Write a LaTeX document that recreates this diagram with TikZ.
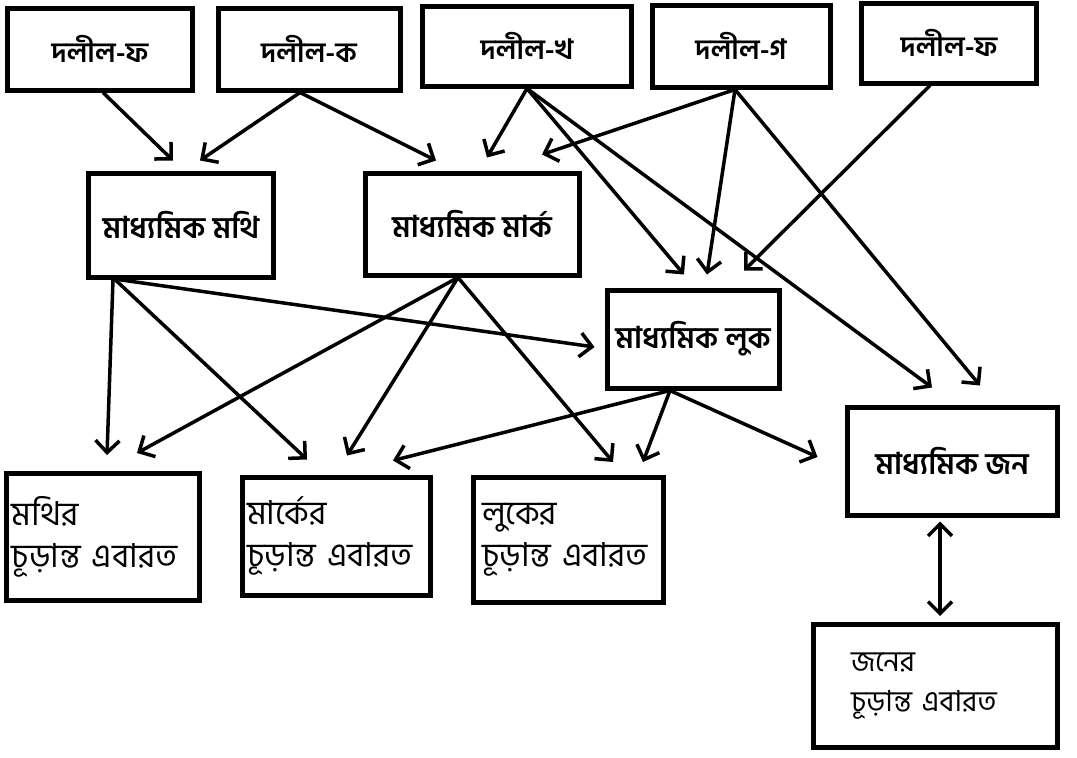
\documentclass[tikz,border=0pt]{standalone}
\usepackage{fontspec}
\newfontfamily\bn[Script=Bengali]{Hind Siliguri}
\usetikzlibrary{arrows.meta}
\begin{document}
\begin{tikzpicture}[x=1pt,y=-1pt,line width=3.5pt,
    >={Straight Barb[length=12pt,width=24pt]},
    box/.style={draw,line width=5pt,inner sep=4pt,font=\bn\bfseries\fontsize{28}{42}\selectfont},
    mid/.style={box,font=\bn\bfseries\fontsize{30}{42}\selectfont},
    fin/.style={box,align=left,font=\bn\fontsize{33}{42}\selectfont}]
  \useasboundingbox (0,0) rectangle (1077,758);
  \node[box,minimum width=185pt,minimum height=82pt] (f1) at (100,49) {দলীল-ফ};
  \node[box,minimum width=182pt,minimum height=82pt] (qa) at (309,49) {দলীল-ক};
  \node[box,minimum width=209pt,minimum height=80pt] (kh) at (527,46) {দলীল-খ};
  \node[box,minimum width=178pt,minimum height=82pt] (ga) at (741,46) {দলীল-গ};
  \node[box,minimum width=175pt,minimum height=80pt] (f2) at (949,43) {দলীল-ফ};
  \node[mid,minimum width=185pt,minimum height=104pt] (mathi) at (181,225) {মাধ্যমিক মথি};
  \node[mid,minimum width=214pt,minimum height=102pt] (mark) at (472,224) {মাধ্যমিক মার্ক};
  \node[mid,minimum width=172pt,minimum height=98pt] (luke) at (693,339) {মাধ্যমিক লুক};
  \node[mid,minimum width=210pt,minimum height=108pt] (john) at (952,461) {মাধ্যমিক জন};
  \node[fin,minimum width=193pt,minimum height=127pt,text width=183pt] (mathiF) at (103,537) {মথির\\চূড়ান্ত এবারত};
  \node[fin,minimum width=188pt,minimum height=118pt,text width=178pt] (markF) at (336,536) {মার্কের\\চূড়ান্ত এবারত};
  \node[fin,minimum width=190pt,minimum height=125pt,text width=172pt] (lukeF) at (568,540) {লুকের\\চূড়ান্ত এবারত};
  \node[fin,minimum width=244pt,minimum height=123pt,text width=168pt,font=\bn\fontsize{29}{40}\selectfont] (johnF) at (935,686) {জনের\\চূড়ান্ত এবারত};
  \draw[->] ([xshift=3pt]f1.south) -- ([xshift=-8pt,yshift=10pt]mathi.north);
  \draw[->] ([xshift=-9pt]qa.south) -- ([xshift=19pt,yshift=10pt]mathi.north);
  \draw[->] ([xshift=-9pt]qa.south) -- ([xshift=-36pt,yshift=10pt]mark.north);
  \draw[->] (kh.south) -- ([xshift=15pt,yshift=13pt]mark.north);
  \draw[->] ([xshift=-6pt]ga.south) -- ([xshift=70pt,yshift=16pt]mark.north);
  \draw[->] (kh.south) -- ([xshift=-9pt,yshift=13pt]luke.north);
  \draw[->] ([xshift=-6pt]ga.south) -- ([xshift=14pt,yshift=13pt]luke.north);
  \draw[->] ([xshift=-19pt]f2.south) -- ([xshift=51pt,yshift=17pt]luke.north);
  \draw[->] (kh.south) -- ([xshift=-20pt,yshift=17pt]john.north);
  \draw[->] ([xshift=-6pt]ga.south) -- ([xshift=28pt,yshift=19pt]john.north);
  \draw[->] ([xshift=-68pt]mathi.south) -- ([xshift=4pt,yshift=16pt]mathiF.north);
  \draw[->] ([xshift=-66pt]mathi.south) -- ([xshift=-29pt,yshift=15pt]markF.north);
  \draw[->] ([xshift=-63pt]mathi.south) -- ([xshift=-10pt,yshift=-8pt]luke.west);
  \draw[->] ([xshift=-14pt]mark.south) -- ([xshift=34pt,yshift=18pt]mathiF.north);
  \draw[->] ([xshift=-14pt]mark.south) -- ([xshift=11pt,yshift=19pt]markF.north);
  \draw[->] ([xshift=-14pt]mark.south) -- ([xshift=45pt,yshift=13pt]lukeF.north);
  \draw[->] ([xshift=-23pt]luke.south) -- ([xshift=57pt,yshift=14pt]markF.north);
  \draw[->] ([xshift=-23pt]luke.south) -- ([xshift=75pt,yshift=13pt]lukeF.north);
  \draw[->] ([xshift=-23pt]luke.south) -- ([xshift=-27pt,yshift=4pt]john.west);
  \draw[<->,shorten <=4pt,shorten >=6pt] ([xshift=-12pt]john.south) -- ([xshift=5pt]johnF.north);
\end{tikzpicture}
\end{document}
